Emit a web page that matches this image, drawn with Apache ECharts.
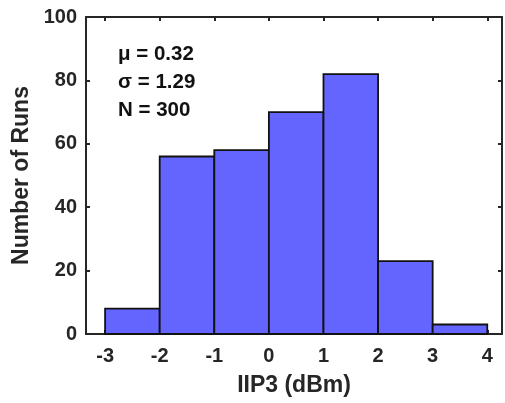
<!DOCTYPE html>
<html>
<head>
<meta charset="utf-8">
<script src="https://cdn.jsdelivr.net/npm/echarts@6/dist/echarts.min.js"></script>
<style>
  html, body { margin: 0; padding: 0; background: #fff; }
  #chart { width: 505px; height: 403px; }
</style>
</head>
<body>
<div id="chart"></div>
<script>
// Histogram of IIP3 over 300 runs
const binStarts = [-3, -2, -1, 0, 1, 2, 3];
const binEnds   = [-2, -1, 0, 1, 2, 3, 4];
const counts    = [8, 56, 58, 70, 82, 23, 3];
const xTicks    = [-3, -2, -1, 0, 1, 2, 3, 4];
const statLines = ['μ = 0.32', 'σ = 1.29', 'N = 300'];

const FONT = '"Liberation Sans", Arial, Helvetica, sans-serif';
const INK = '#262626';
const X_MIN = -3.35, X_MAX = 4.27;

const histData = binStarts.map((s, i) => [s, binEnds[i], counts[i]]);

const chart = echarts.init(document.getElementById('chart'));

const lineStyle = { color: INK, width: 2 };
const tickStyle = { color: INK, width: 2 };

chart.setOption({
  animation: false,
  grid: { left: 86, right: 3, top: 17, bottom: 69 },
  xAxis: [
    {
      type: 'value', min: X_MIN, max: X_MAX, position: 'bottom',
      name: 'IIP3 (dBm)', nameLocation: 'middle', nameGap: 40,
      nameTextStyle: { fontFamily: FONT, fontSize: 23, fontWeight: 'bold', color: INK },
      axisLine: { show: true, onZero: false, lineStyle },
      axisTick: { show: true, inside: true, length: 4, lineStyle: tickStyle, customValues: xTicks },
      axisLabel: { customValues: xTicks, margin: 12,
        fontFamily: FONT, fontSize: 20, fontWeight: 'bold', color: INK },
      splitLine: { show: false }
    },
    {
      type: 'value', min: X_MIN, max: X_MAX, position: 'top',
      axisLine: { show: true, onZero: false, lineStyle },
      axisTick: { show: true, inside: true, length: 4, lineStyle: tickStyle, customValues: xTicks },
      axisLabel: { show: false },
      splitLine: { show: false }
    }
  ],
  yAxis: [
    {
      type: 'value', min: 0, max: 100, interval: 20, position: 'left',
      name: 'Number of Runs', nameLocation: 'middle', nameGap: 49,
      nameTextStyle: { fontFamily: FONT, fontSize: 23, fontWeight: 'bold', color: INK },
      axisLine: { show: true, onZero: false, lineStyle },
      axisTick: { show: true, inside: true, length: 4, lineStyle: tickStyle },
      axisLabel: { margin: 9, fontFamily: FONT, fontSize: 20, fontWeight: 'bold', color: INK },
      splitLine: { show: false }
    },
    {
      type: 'value', min: 0, max: 100, interval: 20, position: 'right',
      axisLine: { show: true, onZero: false, lineStyle },
      axisTick: { show: true, inside: true, length: 4, lineStyle: tickStyle },
      axisLabel: { show: false },
      splitLine: { show: false }
    }
  ],
  graphic: statLines.map((t, i) => ({
    type: 'text', x: 118, y: 54 + i * 28,
    style: { text: t, font: 'bold 20.5px ' + FONT, fill: '#111', verticalAlign: 'middle' }
  })),
  series: [{
    type: 'custom',
    xAxisIndex: 0, yAxisIndex: 0,
    data: histData,
    encode: { x: [0, 1], y: 2 },
    renderItem: function (params, api) {
      const p0 = api.coord([api.value(0), api.value(2)]);
      const p1 = api.coord([api.value(1), 0]);
      return {
        type: 'rect',
        shape: { x: p0[0], y: p0[1], width: p1[0] - p0[0], height: p1[1] - p0[1] },
        style: { fill: '#6464ff', stroke: '#111', lineWidth: 1.8 }
      };
    }
  }]
});
</script>
</body>
</html>
